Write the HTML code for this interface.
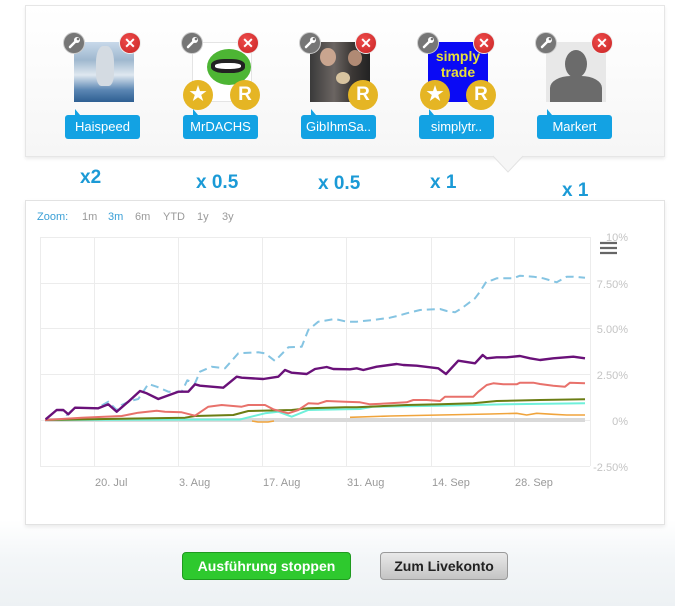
<!DOCTYPE html>
<html><head><meta charset="utf-8">
<style>
*{margin:0;padding:0;box-sizing:border-box}
body{width:675px;height:606px;position:relative;overflow:hidden;font-family:"Liberation Sans",Arial,sans-serif;background:linear-gradient(#fff 0,#fff 520px,#f3f6f8 560px,#edf1f4 606px)}
.abs{position:absolute}
#top{left:25px;top:5px;width:640px;height:152px;border:1px solid #e6e6e6;background:linear-gradient(#fff,#f6f6f6);box-shadow:0 2px 3px rgba(0,0,0,.08)}
.img{position:absolute;width:60px;height:60px;top:42px;overflow:hidden}
.wr{position:absolute;width:22px;height:22px;border-radius:50%;background:#767676;border:1px solid #ccc;top:32px}
.wr svg{position:absolute;left:3px;top:3px}
.x{position:absolute;width:22px;height:22px;border-radius:50%;background:radial-gradient(circle at 40% 35%,#ee4b4b,#c82424);border:1px solid #eee;top:32px;color:#fff;font-size:14px;font-weight:bold;line-height:20px;text-align:center}
.gold{position:absolute;width:30px;height:30px;border-radius:50%;background:#e5b524;top:80px;color:#fff;font-weight:bold;font-size:19px;line-height:30px;text-align:center}
.lab{position:absolute;top:115px;width:75px;height:24px;background:#13a2e3;border-radius:3px;color:#fff;font-size:13px;line-height:24px;text-align:center}
.lab:before{content:"";position:absolute;left:10px;top:-6px;border-left:5px solid #13a2e3;border-top:6px solid transparent}
.mul{position:absolute;color:#1b9ad6;font-weight:bold;font-size:19px}
#chart{left:25px;top:200px;width:640px;height:325px;border:1px solid #e2e2e2;background:#fff;box-shadow:0 2px 4px rgba(0,0,0,.08)}
.zm{position:absolute;top:211px;font-size:11px;color:#999}
.btn{position:absolute;top:552px;height:28px;border-radius:4px;font-weight:bold;font-size:14px;line-height:26px;text-align:center}
</style></head><body>
<div id="top" class="abs"></div>
<svg class="abs" style="left:490px;top:155px" width="36" height="18"><polygon points="3,1 33,1 18,17" fill="#f6f6f6"/><polyline points="3,1 18,17 33,1" fill="none" stroke="#e3e3e3"/></svg>

<!-- Haispeed -->
<div class="img" style="left:74px;background:linear-gradient(#c8d9ea 0,#9fb8cf 30%,#dfe8f0 55%,#5b86b3 80%,#2e5f92 100%)"><div style="position:absolute;left:22px;top:4px;width:18px;height:40px;background:#d4dbe2;border-radius:40% 40% 30% 30%"></div></div>
<div class="wr" style="left:63px"><svg width="14" height="14"><path d="M3 11L9 5" stroke="#fff" stroke-width="2.5" stroke-linecap="round"/><circle cx="10" cy="4" r="3" fill="#fff"/><circle cx="11" cy="3" r="1.3" fill="#767676"/></svg></div><div class="x" style="left:119px">✕</div>
<div class="lab" style="left:65px">Haispeed</div>

<!-- MrDACHS -->
<div class="img" style="left:192px;background:#fff;border:1px solid #e4e4e4"><div style="position:absolute;left:14px;top:6px;width:44px;height:36px;background:#4db534;border-radius:50%"></div><div style="position:absolute;left:18px;top:16px;width:34px;height:14px;background:#222;border-radius:40%"></div><div style="position:absolute;left:22px;top:20px;width:26px;height:6px;background:#fff;border-radius:40%"></div></div>
<div class="wr" style="left:181px"><svg width="14" height="14"><path d="M3 11L9 5" stroke="#fff" stroke-width="2.5" stroke-linecap="round"/><circle cx="10" cy="4" r="3" fill="#fff"/><circle cx="11" cy="3" r="1.3" fill="#767676"/></svg></div><div class="x" style="left:237px">✕</div>
<div class="gold" style="left:183px">★</div><div class="gold" style="left:230px">R</div>
<div class="lab" style="left:183px">MrDACHS</div>

<!-- GibIhmSa -->
<div class="img" style="left:310px;background:linear-gradient(90deg,#3a3a3a,#6b6562 40%,#3c3836 70%,#222)"><div style="position:absolute;left:10px;top:6px;width:16px;height:18px;background:#c9a58f;border-radius:50%"></div><div style="position:absolute;left:38px;top:8px;width:14px;height:16px;background:#b08a74;border-radius:50%"></div><div style="position:absolute;left:26px;top:30px;width:14px;height:12px;background:#d8c4a0;border-radius:50%"></div></div>
<div class="wr" style="left:299px"><svg width="14" height="14"><path d="M3 11L9 5" stroke="#fff" stroke-width="2.5" stroke-linecap="round"/><circle cx="10" cy="4" r="3" fill="#fff"/><circle cx="11" cy="3" r="1.3" fill="#767676"/></svg></div><div class="x" style="left:355px">✕</div>
<div class="gold" style="left:348px">R</div>
<div class="lab" style="left:301px">GibIhmSa..</div>

<!-- simplytrade -->
<div class="img" style="left:428px;background:#0a0af5;color:#e8e03a;font-weight:bold;font-size:14px;line-height:16px;text-align:center;padding-top:6px">simply<br>trade</div>
<div class="wr" style="left:417px"><svg width="14" height="14"><path d="M3 11L9 5" stroke="#fff" stroke-width="2.5" stroke-linecap="round"/><circle cx="10" cy="4" r="3" fill="#fff"/><circle cx="11" cy="3" r="1.3" fill="#767676"/></svg></div><div class="x" style="left:473px">✕</div>
<div class="gold" style="left:420px">★</div><div class="gold" style="left:466px">R</div>
<div class="lab" style="left:419px">simplytr..</div>

<!-- Markert -->
<div class="img" style="left:546px;background:#e8e8e8"><div style="position:absolute;left:19px;top:8px;width:22px;height:28px;background:#6b6b6b;border-radius:50%"></div><div style="position:absolute;left:4px;top:34px;width:52px;height:30px;background:#6b6b6b;border-radius:40% 40% 0 0"></div></div>
<div class="wr" style="left:535px"><svg width="14" height="14"><path d="M3 11L9 5" stroke="#fff" stroke-width="2.5" stroke-linecap="round"/><circle cx="10" cy="4" r="3" fill="#fff"/><circle cx="11" cy="3" r="1.3" fill="#767676"/></svg></div><div class="x" style="left:591px">✕</div>
<div class="lab" style="left:537px">Markert</div>

<div class="mul" style="left:80px;top:167px">x2</div>
<div class="mul" style="left:196px;top:172px">x 0.5</div>
<div class="mul" style="left:318px;top:173px">x 0.5</div>
<div class="mul" style="left:430px;top:172px">x 1</div>
<div class="mul" style="left:562px;top:180px">x 1</div>

<div id="chart" class="abs"></div>
<div class="zm" style="left:37px;color:#3a9fd6">Zoom:</div>
<div class="zm" style="left:82px">1m</div>
<div class="zm" style="left:108px;color:#3a9fd6">3m</div>
<div class="zm" style="left:135px">6m</div>
<div class="zm" style="left:163px">YTD</div>
<div class="zm" style="left:197px">1y</div>
<div class="zm" style="left:222px">3y</div>

<svg class="abs" style="left:0;top:0" width="675" height="606">
<g stroke="#ececec" stroke-width="1" fill="none">
<path d="M40 237.5H590M40 283.5H590M40 328.5H590M40 374.5H590M40 420.5H590M40 466.5H590"/>
<path d="M40.5 237V466M94.5 237V466M178.5 237V466M262.5 237V466M346.5 237V466M431.5 237V466M514.5 237V466M590.5 237V466"/>
</g>
<g font-family="Liberation Sans,Arial,sans-serif" font-size="11" fill="#c4c4c4" text-anchor="end">
<text x="628" y="241">10%</text><text x="628" y="288">7.50%</text><text x="628" y="333">5.00%</text><text x="628" y="379">2.50%</text><text x="628" y="425">0%</text><text x="628" y="471">-2.50%</text>
</g>
<g font-family="Liberation Sans,Arial,sans-serif" font-size="11" fill="#999">
<text x="95" y="486">20. Jul</text><text x="179" y="486">3. Aug</text><text x="263" y="486">17. Aug</text><text x="347" y="486">31. Aug</text><text x="432" y="486">14. Sep</text><text x="515" y="486">28. Sep</text>
</g>
<g stroke="#666" stroke-width="2.2"><path d="M600 243H617M600 248H617M600 253H617"/></g>
<path d="M45 420H585" stroke="#d9d9d9" stroke-width="4"/>
<g fill="none" stroke-linejoin="round">
<polyline stroke="#f0a43c" stroke-width="1.6" points="252,421 258,422 268,422 274,421"/>
<polyline stroke="#f0a43c" stroke-width="1.6" points="350,417.3 390,416 440,415 490,414 516.7,413.3 526.7,415 536.7,413.3 553.3,414.3 566.7,415 585,415"/>
<polyline stroke="#6ff0da" stroke-width="2" points="45,420 240,419.5 265,413.3 278.3,411.7 291.7,416.7 308.3,410 345,409.3 360,409 373.3,406.7 440,405.7 506.7,404.3 585,403.3"/>
<polyline stroke="#6b7d14" stroke-width="2" points="45,420 185,417.7 195,416 233.3,415 248.3,411 291.7,410 308.3,408.3 345,407.3 356.7,407.3 406.7,405 440,404.3 473.3,403.3 496.7,401 540,400 585,399.3"/>
<polyline stroke="#e8716b" stroke-width="2" points="45,420 81.7,417.7 121.7,416 138.3,412.7 156.7,410.7 165,411.7 181.7,412.3 195,415.7 208.3,406.7 221.7,405 241.7,406.7 248.3,405 265,405 273.3,409.3 288.3,413.3 298.3,410 308.3,403.3 318.3,403.7 326.7,401 345,401.7 360,402.3 370,404.3 390,403.3 406.7,402.3 413.3,400 426.7,400 440,401 445,396.7 473.3,396.7 478.3,391.7 486.7,385 493.3,383.3 503.3,384.3 516.7,384.3 520,382.7 533.3,382.7 540,384 553.3,385.7 565,386.7 570,382.7 585,383.3"/>
<polyline stroke="#85c4e2" stroke-width="2" stroke-dasharray="8,5" points="45.7,419.3 56.7,410 61.7,410 66.7,415 75,407.7 96.7,408.3 108.3,401.7 116.7,410 121.7,405 130,401 138.3,399 148.3,384 156.7,386.7 168.3,391.7 181.7,391.7 187.3,380.3 195,383.3 200,371.7 211.7,366.7 225,368.3 238.3,353.3 258.3,352.3 265,353.3 275,361 288.3,347.3 301.7,346.7 308.3,330 318.3,321.7 335,319 346.7,321.7 356.7,321.7 373.3,320 390,317.7 398.3,315.7 406.7,313.3 420,310 440,309 446.7,311 455,312.3 461.7,308.3 475,298.3 480,291.7 486.7,281 491.7,280.3 496.7,278.3 513.3,278.3 520,275.7 533.3,276.7 543.3,278.3 556.7,282.3 566.7,276.7 573.3,276.7 585,277.7"/>
<polyline stroke="#6a1179" stroke-width="2.4" points="45.7,419.3 56.7,410 63.3,410 68.3,414.3 75,407.7 98.3,408.3 108.3,404.3 116.7,411.7 128.3,401.7 140,391 146.7,393.3 158.3,399 178.3,391.7 188.3,391.7 195,384.3 200,385.7 223.3,387.7 236.7,376.7 241.7,377.7 263.3,379 278.3,376.7 285,370 291.7,372.7 306.7,374 315,369 326.7,367 333.3,369 350,369.3 356.7,368.3 363.3,370 376.7,366.7 396.7,364 403.3,365 416.7,365.7 438.3,368.3 446,374 458.3,360.7 475,363.3 482.7,355 486.7,358.3 496.7,357.3 506.7,357.3 520,356 530,358.3 540,360 553.3,358.3 573.3,356.7 585,358.3"/>
</g>
</svg>

<div class="btn" style="left:182px;width:169px;background:#2ec92e;border:1px solid #1f9a1f;color:#fff">Ausführung stoppen</div>
<div class="btn" style="left:380px;width:128px;background:linear-gradient(#e9e9e9,#c4c4c4);border:1px solid #9a9a9a;color:#222">Zum Livekonto</div>
</body></html>
